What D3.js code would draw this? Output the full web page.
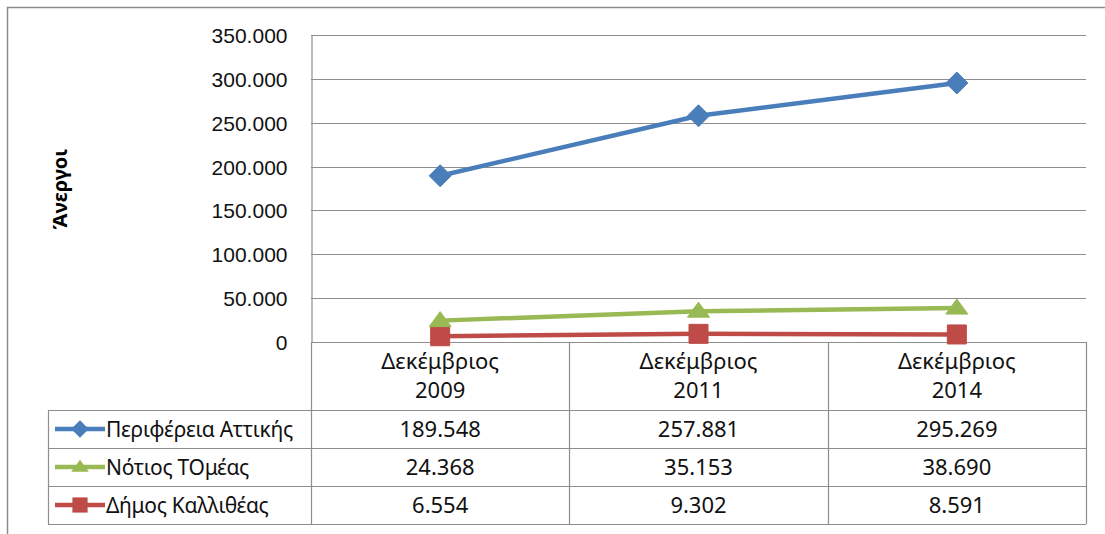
<!DOCTYPE html>
<html>
<head>
<meta charset="utf-8">
<script src="https://cdn.jsdelivr.net/npm/d3@7"></script>
<style>
  body { margin: 0; background: #fff; }
  svg { display: block; font-family: "Noto Sans", "Open Sans", sans-serif; }
</style>
</head>
<body>
<script>
// data
var categories = ["Δεκέμβριος 2009", "Δεκέμβριος 2011", "Δεκέμβριος 2014"];
var seriesNames = ["Περιφέρεια Αττικής", "Νότιος ΤΟμέας", "Δήμος Καλλιθέας"];
var attiki = [189548, 257881, 295269];
var notios = [24368, 35153, 38690];
var kallithea = [6554, 9302, 8591];
var yTicks = [0, 50000, 100000, 150000, 200000, 250000, 300000, 350000];
var yTitle = "Άνεργοι";

var series = [
    { name: seriesNames[0], values: attiki, color: "#4A7EBB", marker: "diamond" },
    { name: seriesNames[1], values: notios, color: "#98B954", marker: "triangle" },
    { name: seriesNames[2], values: kallithea, color: "#BE4B48", marker: "square" }
];

var W = 1105, H = 534;
var plot = { left: 311, right: 1086, top: 35, bottom: 342 };
var tableLeft = 48;
var headerBottom = 410;
var rowBottom = 524;

var svg = d3.select("body")
    .append("svg")
    .attr("width", W)
    .attr("height", H);

// outer frame
svg.append("rect")
    .attr("x", 7.5)
    .attr("y", 7.5)
    .attr("width", W + 10)
    .attr("height", H + 10)
    .attr("fill", "none")
    .attr("stroke", "#8c8c8c")
    .attr("stroke-width", 1.5);

var x = d3.scaleBand()
    .domain(categories)
    .range([plot.left, plot.right]);

var y = d3.scaleLinear()
    .domain([0, 350000])
    .range([plot.bottom, plot.top]);

var rows = d3.scaleBand()
    .domain(seriesNames)
    .range([headerBottom, rowBottom]);

var greek = d3.formatLocale({ decimal: ",", thousands: ".", grouping: [3], currency: ["", "€"] });
var fmt = greek.format(",d");

// gridlines
svg.append("g")
    .selectAll("line")
    .data(yTicks.filter(function(d) { return d > 0; }))
    .enter()
    .append("line")
    .attr("x1", plot.left)
    .attr("x2", plot.right)
    .attr("y1", function(d) { return Math.round(y(d)) + 0.5; })
    .attr("y2", function(d) { return Math.round(y(d)) + 0.5; })
    .attr("stroke", "#8e8e8e")
    .attr("stroke-width", 1.2);

// Y-as
var yAxis = svg.append("g")
    .attr("transform", "translate(" + (plot.left + 0.5) + ",0)")
    .call(d3.axisLeft(y).tickValues(yTicks).tickFormat(fmt).tickSize(0).tickPadding(24));
yAxis.select(".domain").attr("stroke", "#8e8e8e").attr("stroke-width", 1.2);
yAxis.selectAll("text")
    .style("font-size", "21px")
    .style("fill", "#111")
    .attr("dy", "0.36em");

// y title
svg.append("text")
    .attr("transform", "translate(67,189) rotate(-90)")
    .attr("text-anchor", "middle")
    .style("font-size", "20px")
    .style("font-weight", "bold")
    .style("fill", "#000")
    .text(yTitle);

// tabel
var grid = svg.append("g")
    .attr("stroke", "#8e8e8e")
    .attr("stroke-width", 1.2)
    .attr("fill", "none");

// vertical column lines
grid.selectAll(".vcol")
    .data(categories.concat(["end"]))
    .enter()
    .append("line")
    .attr("x1", function(d, i) { return i < categories.length ? Math.round(x(d)) + 0.5 : plot.right + 0.5; })
    .attr("x2", function(d, i) { return i < categories.length ? Math.round(x(d)) + 0.5 : plot.right + 0.5; })
    .attr("y1", plot.bottom)
    .attr("y2", rowBottom);

// axis line at 0
grid.append("line")
    .attr("x1", plot.left)
    .attr("x2", plot.right)
    .attr("y1", Math.round(y(0)) + 0.5)
    .attr("y2", Math.round(y(0)) + 0.5);

// row lines
grid.selectAll(".hrow")
    .data(seriesNames.concat(["end"]))
    .enter()
    .append("line")
    .attr("x1", tableLeft)
    .attr("x2", plot.right)
    .attr("y1", function(d, i) { return (i < seriesNames.length ? Math.round(rows(d)) : rowBottom) + 0.5; })
    .attr("y2", function(d, i) { return (i < seriesNames.length ? Math.round(rows(d)) : rowBottom) + 0.5; });

// left table edge
grid.append("line")
    .attr("x1", tableLeft + 0.5)
    .attr("x2", tableLeft + 0.5)
    .attr("y1", headerBottom)
    .attr("y2", rowBottom);

// category labels
var catLabels = svg.append("g")
    .selectAll("text")
    .data(categories)
    .enter()
    .append("text")
    .attr("text-anchor", "middle")
    .style("font-size", "22px")
    .style("fill", "#111");

catLabels.each(function(d) {
    var parts = d.split(" ");
    var t = d3.select(this);
    parts.forEach(function(p, i) {
        t.append("tspan")
            .attr("x", x(d) + x.bandwidth() / 2)
            .attr("y", 369 + i * 29)
            .text(p);
    });
});

// values in table
series.forEach(function(s) {
    svg.append("g")
        .selectAll("text")
        .data(s.values)
        .enter()
        .append("text")
        .attr("x", function(d, i) { return x(categories[i]) + x.bandwidth() / 2; })
        .attr("y", rows(s.name) + rows.bandwidth() / 2)
        .attr("dy", "0.36em")
        .attr("text-anchor", "middle")
        .style("font-size", "22px")
        .style("fill", "#111")
        .text(fmt);
});

function markerPath(type) {
    if (type === "diamond") return "M0,-11L11,0L0,11L-11,0Z";
    if (type === "triangle") return "M0,-9L11,6L-11,6Z";
    return "M-9.5,-9.5H9.5V9.5H-9.5Z";
}

var line = d3.line()
    .x(function(d, i) { return x(categories[i]) + x.bandwidth() / 2; })
    .y(function(d) { return y(d); });

// lines + markers, drawn so blue is on top
series.slice().reverse().forEach(function(s) {
    svg.append("path")
        .datum(s.values)
        .attr("d", line)
        .attr("fill", "none")
        .attr("stroke", s.color)
        .attr("stroke-width", 4.5)
        .attr("stroke-linejoin", "round");

    svg.append("g")
        .selectAll("path")
        .data(s.values)
        .enter()
        .append("path")
        .attr("transform", function(d, i) {
            return "translate(" + (x(categories[i]) + x.bandwidth() / 2) + "," + y(d) + ")";
        })
        .attr("d", markerPath(s.marker))
        .attr("fill", s.color)
        .attr("stroke", s.color)
        .attr("stroke-width", 1);

    // legend key in table
    var cy = rows(s.name) + rows.bandwidth() / 2;
    var key = svg.append("g").attr("transform", "translate(80," + cy + ")");
    key.append("line")
        .attr("x1", -25)
        .attr("x2", 25)
        .attr("stroke", s.color)
        .attr("stroke-width", 4.5);
    key.append("path")
        .attr("d", markerPath(s.marker))
        .attr("transform", "scale(0.8)")
        .attr("fill", s.color);

    svg.append("text")
        .attr("x", 106)
        .attr("y", cy)
        .attr("dy", "0.36em")
        .style("font-size", "21px")
        .style("letter-spacing", "-0.3px")
        .style("fill", "#111")
        .text(s.name);
});
</script>
</body>
</html>
